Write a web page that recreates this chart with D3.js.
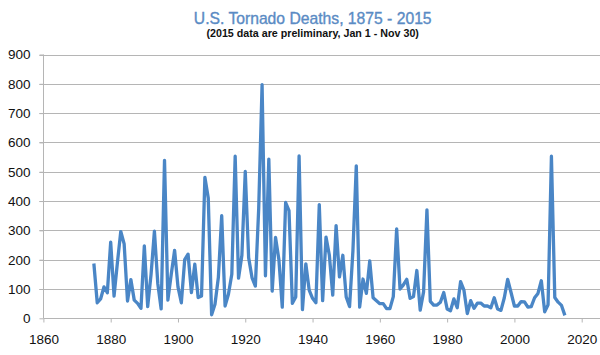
<!DOCTYPE html>
<html>
<head>
<meta charset="utf-8">
<script src="https://cdn.jsdelivr.net/npm/d3@7"></script>
<style>
  html, body { margin: 0; padding: 0; background: #fff; }
  svg { display: block; }
</style>
</head>
<body>
<svg id="chart" width="600" height="355"></svg>
<script>
// ---- data ----
const titleText = "U.S. Tornado Deaths, 1875 - 2015";
const subtitleText = "(2015 data are preliminary, Jan 1 - Nov 30)";
const firstYear = 1875;
const deaths = [
  187, 53, 66, 107, 87, 260, 76, 190, 296, 254,      // 1875-1884
  59, 132, 62, 51, 34, 247, 40, 150, 297, 119,       // 1885-1894
  32, 539, 62, 150, 232, 107, 53, 200, 219, 88,      // 1895-1904
  185, 71, 76, 481, 410, 12, 48, 139, 350, 42,       // 1905-1914
  82, 150, 553, 137, 215, 501, 207, 139, 110, 376,   // 1915-1924
  797, 145, 543, 93, 276, 200, 38, 395, 367, 51,     // 1925-1934
  73, 554, 30, 186, 96, 68, 53, 388, 60, 277,        // 1935-1944
  215, 79, 316, 141, 215, 73, 40, 230, 520, 38,      // 1945-1954
  134, 85, 196, 70, 60, 50, 50, 33, 33, 74,          // 1955-1964
  305, 100, 114, 133, 68, 74, 163, 28, 90, 370,      // 1965-1974
  58, 45, 45, 55, 88, 32, 26, 66, 36, 125,           // 1975-1984
  96, 16, 60, 34, 52, 52, 42, 42, 36, 70,            // 1985-1994
  32, 27, 70, 133, 88, 42, 42, 57, 56, 38,           // 1995-2004
  40, 70, 85, 128, 22, 46, 553, 71, 55, 44,          // 2005-2014
  10                                                 // 2015
];
const xTicks = [1860, 1880, 1900, 1920, 1940, 1960, 1980, 2000, 2020];
const yTicks = [0, 100, 200, 300, 400, 500, 600, 700, 800, 900];

const points = deaths.map((v, i) => ({ year: firstYear + i, value: v }));

// ---- layout ----
const svg = d3.select("#chart");
const font = "'Liberation Sans', Arial, sans-serif";
const gridColor = "#b5b5b5";

const x = d3.scaleLinear().domain([1860, 2020]).range([43.4, 581.7]);
const y = d3.scaleLinear().domain([0, 900]).range([318.3, 54.5]);
const plotRight = 600;

// gridlines
svg.append("g")
  .selectAll("line")
  .data(yTicks.filter(d => d > 0))
  .join("line")
  .attr("x1", x(1860) - 4).attr("x2", plotRight)
  .attr("y1", d => Math.round(y(d)) + 0.5).attr("y2", d => Math.round(y(d)) + 0.5)
  .attr("stroke", gridColor).attr("stroke-width", 1);

// y axis
const yAxis = svg.append("g")
  .attr("transform", `translate(${Math.round(x(1860)) + 0.5},0)`)
  .call(d3.axisLeft(y).tickValues(yTicks).tickSize(4).tickPadding(9).tickFormat(d3.format("d")));
yAxis.select(".domain").attr("stroke", gridColor).attr("d", `M-0,${y(900)}V${y(0)}`);
yAxis.selectAll(".tick line").attr("stroke", gridColor);
yAxis.selectAll(".tick text")
  .attr("font-family", font).attr("font-size", 13.5).attr("fill", "#111");

// x axis
const xAxis = svg.append("g")
  .attr("transform", `translate(0,${Math.round(y(0)) + 0.5})`)
  .call(d3.axisBottom(x).tickValues(xTicks).tickSize(4).tickPadding(12).tickFormat(d3.format("d")));
xAxis.select(".domain").attr("stroke", gridColor).attr("d", `M${x(1860)},0H${plotRight}`);
xAxis.selectAll(".tick line").attr("stroke", gridColor);
xAxis.selectAll(".tick text")
  .attr("font-family", font).attr("font-size", 13.5).attr("fill", "#111");

// data line
svg.append("path")
  .datum(points)
  .attr("fill", "none")
  .attr("stroke", "#4a86c6")
  .attr("stroke-width", 3.3)
  .attr("stroke-linejoin", "round")
  .attr("d", d3.line().x(d => x(d.year)).y(d => y(d.value)));

// titles
svg.append("text")
  .attr("x", 312.7).attr("y", 24)
  .attr("text-anchor", "middle")
  .attr("font-family", font).attr("font-size", 15.7)
  .attr("fill", "#5a8bc4").attr("stroke", "#5a8bc4").attr("stroke-width", 0.35)
  .text(titleText);

svg.append("text")
  .attr("x", 312.7).attr("y", 36.5)
  .attr("text-anchor", "middle")
  .attr("font-family", font).attr("font-size", 10.7).attr("font-weight", "bold")
  .attr("fill", "#111")
  .text(subtitleText);
</script>
</body>
</html>
